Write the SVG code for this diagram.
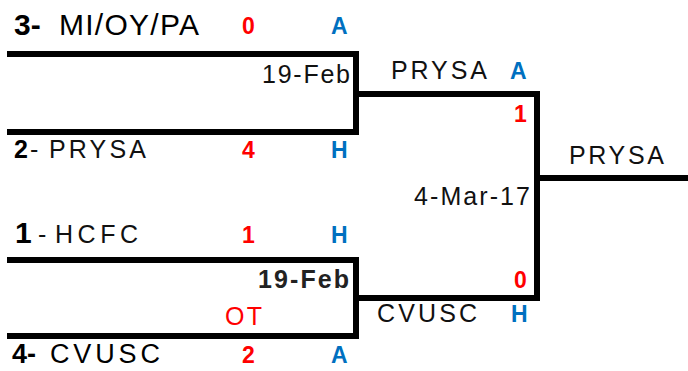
<svg xmlns="http://www.w3.org/2000/svg" width="688" height="371" viewBox="0 0 688 371">
<style>
text{font-family:"Liberation Sans",Arial,sans-serif}
.b{font-weight:bold}
.sc{font-weight:bold;font-size:23px;fill:#FF0000}
.ha{font-weight:bold;font-size:23px;fill:#0070C0}
.n{font-size:25px;fill:#111}
.red{fill:#FF0000}
.ln{fill:none;stroke:#000;stroke-width:6;stroke-linejoin:miter;stroke-linecap:butt}
</style>
<rect width="688" height="371" fill="#fff"/>
<g id="connectors">
<polyline class="ln" points="7,54 356,54 356,132 7,132"/>
<polyline class="ln" points="7,260 356,260 356,336 7,336"/>
<polyline class="ln" points="356,94 537,94 537,298 356,298"/>
<line class="ln" x1="537" y1="178" x2="688" y2="178"/>
</g>
<g id="team-3">
<text class="b" x="14" y="35" font-size="30">3-</text>
<text x="59" y="35" font-size="30" textLength="140" lengthAdjust="spacing">MI/OY/PA</text>
<text class="sc" x="242" y="34">0</text>
<text class="ha" x="331" y="34">A</text>
</g>
<g id="team-2">
<text class="b" x="14" y="158" font-size="25">2</text>
<text class="n" x="30" y="158">-</text>
<text class="n" x="49" y="158" textLength="97" lengthAdjust="spacing">PRYSA</text>
<text class="sc" x="242" y="158">4</text>
<text class="ha" x="331" y="158">H</text>
</g>
<g id="match-1">
<text class="n" x="262" y="83" textLength="88" lengthAdjust="spacing">19-Feb</text>
</g>
<g id="team-1">
<text class="b" x="15" y="243" font-size="30">1</text>
<text class="n" x="38" y="243">-</text>
<text class="n" x="55" y="243" textLength="83" lengthAdjust="spacing">HCFC</text>
<text class="sc" x="242" y="243">1</text>
<text class="ha" x="331" y="243">H</text>
</g>
<g id="match-2">
<text class="b" x="258" y="288" font-size="25" fill="#222" textLength="91" lengthAdjust="spacing">19-Feb</text>
<text class="n red" x="225" y="325" textLength="37" lengthAdjust="spacing">OT</text>
</g>
<g id="team-4">
<text class="b" x="12" y="363" font-size="27">4-</text>
<text x="50" y="363" font-size="27" textLength="110" lengthAdjust="spacing">CVUSC</text>
<text class="sc" x="242" y="363">2</text>
<text class="ha" x="331" y="363">A</text>
</g>
<g id="final">
<text class="n" x="391" y="79" textLength="96" lengthAdjust="spacing">PRYSA</text>
<text class="ha" x="510" y="79">A</text>
<text class="sc" x="514" y="122">1</text>
<text class="n" x="414" y="205" textLength="116" lengthAdjust="spacing">4-Mar-17</text>
<text class="sc" x="514" y="288">0</text>
<text class="n" x="377" y="322" textLength="100" lengthAdjust="spacing">CVUSC</text>
<text class="ha" x="511" y="322">H</text>
</g>
<g id="winner">
<text class="n" x="569" y="164" textLength="95" lengthAdjust="spacing">PRYSA</text>
</g>
</svg>
